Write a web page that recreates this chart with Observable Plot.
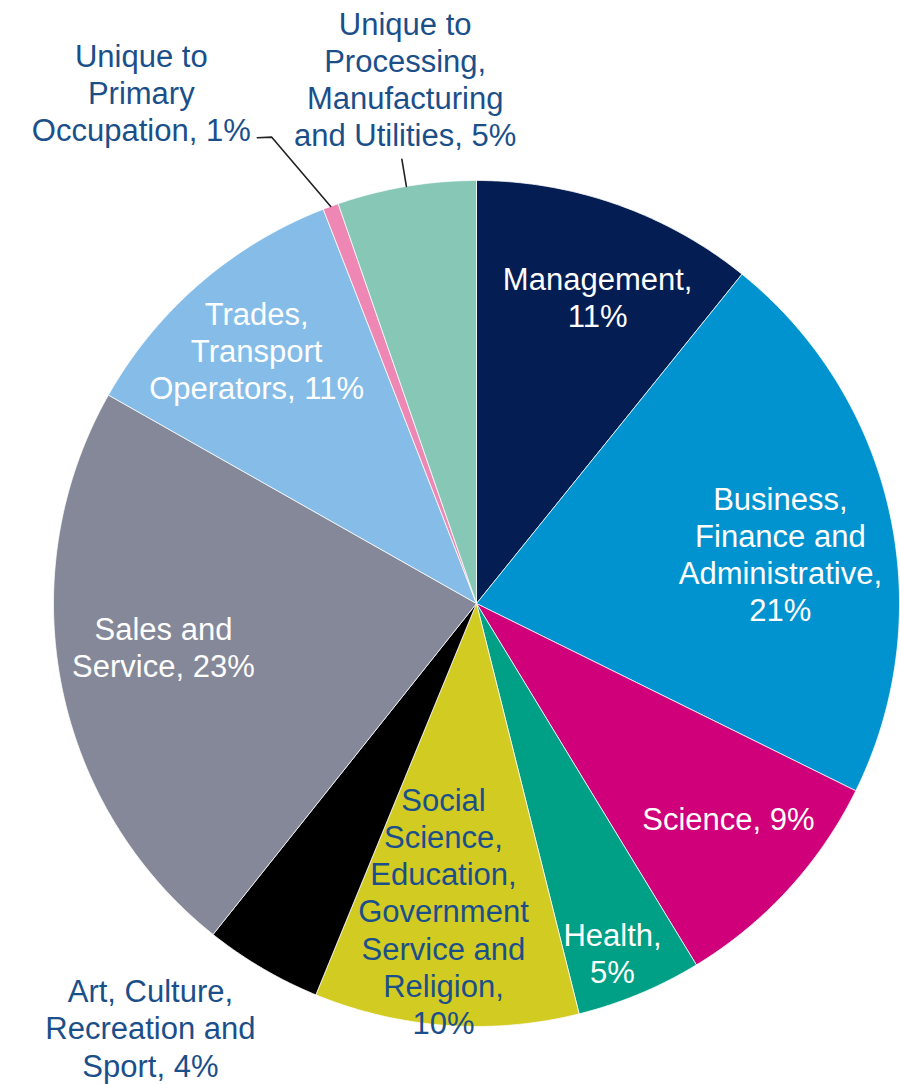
<!DOCTYPE html>
<html>
<head>
<meta charset="utf-8">
<script src="https://cdn.jsdelivr.net/npm/d3@7"></script>
<script src="https://cdn.jsdelivr.net/npm/@observablehq/plot@0.6"></script>
<style>
  html, body { margin: 0; padding: 0; background: #ffffff; }
  #chart { width: 900px; height: 1084px; }
</style>
</head>
<body>
<div id="chart"></div>
<script>
// ---- data (clockwise from 12 o'clock), shares in % ----
const categories = [
  "Management",
  "Business, Finance and Administrative",
  "Science",
  "Health",
  "Social Science, Education, Government Service and Religion",
  "Art, Culture, Recreation and Sport",
  "Sales and Service",
  "Trades, Transport Operators",
  "Unique to Primary Occupation",
  "Unique to Processing, Manufacturing and Utilities"
];
const shares = [10.8, 21.5, 9.0, 4.8, 10.1, 4.5, 22.5, 10.9, 0.6, 5.3];
const labelTexts = [
  "Management,\n11%",
  "Business,\nFinance and\nAdministrative,\n21%",
  "Science, 9%",
  "Health,\n5%",
  "Social\nScience,\nEducation,\nGovernment\nService and\nReligion,\n10%",
  "Art, Culture,\nRecreation and\nSport, 4%",
  "Sales and\nService, 23%",
  "Trades,\nTransport\nOperators, 11%",
  "Unique to\nPrimary\nOccupation, 1%",
  "Unique to\nProcessing,\nManufacturing\nand Utilities, 5%"
];

// ---- styling / layout ----
const sliceColors = ["#041d52", "#0093cf", "#cf007a", "#00a086", "#d2cb22",
                     "#000000", "#858898", "#85bde8", "#ee87b4", "#86c8b5"];
const darkText = "#1b4f8a";
const labelFills = ["white", "white", "white", "white", darkText,
                    darkText, "white", "white", darkText, darkText];
// label placement: radius as fraction of pie radius, angle shift (deg) from slice middle
const labelRadius = [0.78, 0.728, 0.783, 0.886, 0.73, 1.2644, 0.747, 0.793, 1.445, 1.2525];
const labelShift  = [2.1, 3.1, -2.0, 1.4, 2.0, 7.15, 3.2, -0.1, -13.1, 1.8];
// leader lines: [radius fraction, absolute angle in deg (or null = slice middle)]
const leaderSpecs = [
  {index: 8, pts: [[1.0, null], [1.204, 336.3], [1.217, 334.8]]},
  {index: 9, pts: [[1.0, null], [1.065, null]]}
];

// pixel geometry of the pie on the 900x1084 canvas
const W = 900, H = 1084, CX = 476, CY = 603, R = 423;

// ---- derived geometry ----
const total = d3.sum(shares);
const ends = d3.cumsum(shares);
const polar = (r, deg) => {
  const a = deg * Math.PI / 180;
  return [r * Math.sin(a), r * Math.cos(a)];
};
const slices = categories.map((name, i) => {
  const a0 = (ends[i] - shares[i]) / total * 360;
  const a1 = ends[i] / total * 360;
  return {name, i, a0, a1, mid: (a0 + a1) / 2};
});

const slicePoints = [];
for (const s of slices) {
  slicePoints.push({name: s.name, x: 0, y: 0});
  const n = Math.max(2, Math.ceil((s.a1 - s.a0) / 0.5));
  for (let k = 0; k <= n; ++k) {
    const [x, y] = polar(1, s.a0 + (s.a1 - s.a0) * k / n);
    slicePoints.push({name: s.name, x, y});
  }
  slicePoints.push({name: s.name, x: 0, y: 0});
}

const labelRows = slices.map(s => {
  const [x, y] = polar(labelRadius[s.i], s.mid + labelShift[s.i]);
  return {x, y, text: labelTexts[s.i], fill: labelFills[s.i]};
});

const leaderRows = [];
for (const spec of leaderSpecs) {
  const s = slices[spec.index];
  for (const [r, ang] of spec.pts) {
    const [x, y] = polar(r, ang == null ? s.mid : ang);
    leaderRows.push({id: spec.index, x, y});
  }
}

const font = "'Liberation Sans', Arial, Helvetica, sans-serif";
const textOpts = {
  x: "x", y: "y", text: "text",
  fontSize: 31, lineHeight: 1.2, lineAnchor: "middle", textAnchor: "middle",
  fontFamily: font
};

const chart = Plot.plot({
  width: W,
  height: H,
  margin: 0,
  x: {domain: [-CX / R, (W - CX) / R], axis: null},
  y: {domain: [-(H - CY) / R, CY / R], axis: null},
  color: {domain: categories, range: sliceColors},
  style: {background: "white", fontFamily: font, overflow: "visible"},
  marks: [
    Plot.line(slicePoints, {
      x: "x", y: "y", z: "name", fill: "name",
      stroke: "white", strokeWidth: 0.75, strokeLinejoin: "round", curve: "linear"
    }),
    Plot.line(leaderRows, {
      x: "x", y: "y", z: "id", stroke: "#222222", strokeWidth: 1.6, curve: "linear"
    }),
    Plot.text(labelRows.filter(d => d.fill === "white"), {...textOpts, fill: "white"}),
    Plot.text(labelRows.filter(d => d.fill !== "white"), {...textOpts, fill: darkText})
  ]
});
document.getElementById("chart").appendChild(chart);
</script>
</body>
</html>
